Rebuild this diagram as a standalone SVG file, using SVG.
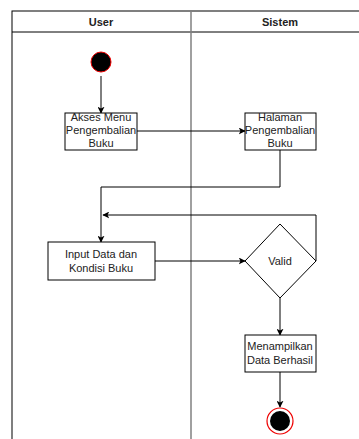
<svg xmlns="http://www.w3.org/2000/svg" width="359" height="439" viewBox="0 0 359 439">
<style>
.lane{fill:none;stroke:#000;stroke-width:1}
.div{stroke:#808080;stroke-width:1.5}
.hdr{font-family:"Liberation Sans",Arial,sans-serif;font-size:11px;font-weight:bold;fill:#222;text-anchor:middle}
.box{fill:#fff;stroke:#000;stroke-width:1}
.t{font-family:"Liberation Sans",Arial,sans-serif;font-size:11px;fill:#222;text-anchor:middle}
.c{fill:none;stroke:#000;stroke-width:1}
</style>
<defs>
<marker id="ar" viewBox="0 0 10 10" refX="9" refY="5" markerWidth="7" markerHeight="7" orient="auto" markerUnits="userSpaceOnUse">
<path d="M0,0 L10,5 L0,10 L2.5,5 Z" fill="#000"/>
</marker>
</defs>
<rect width="359" height="439" fill="#fff"/>
<g id="lanes">
<rect class="lane" x="12" y="11" width="360" height="440"/>
<line class="lane" x1="12" y1="32" x2="372" y2="32"/>
<line class="div" x1="191" y1="11" x2="191" y2="439"/>
<text class="hdr" x="101" y="26">User</text>
<text class="hdr" x="280" y="26">Sistem</text>
</g>
<g id="connectors">
<line class="c" x1="101" y1="76" x2="101" y2="113" marker-end="url(#ar)"/>
<line class="c" x1="137" y1="131" x2="245" y2="131" marker-end="url(#ar)"/>
<polyline class="c" points="280,150 280,187 101,187 101,242" marker-end="url(#ar)"/>
<line class="c" x1="155" y1="261" x2="245" y2="261" marker-end="url(#ar)"/>
<polyline class="c" points="316,261 316,215 103,215" marker-end="url(#ar)"/>
<line class="c" x1="280" y1="298" x2="280" y2="335" marker-end="url(#ar)"/>
<line class="c" x1="280" y1="372" x2="280" y2="407" marker-end="url(#ar)"/>
</g>
<g id="start">
<circle cx="101" cy="62" r="10" fill="#000" stroke="#e00" stroke-width="1"/>
</g>
<g id="akses">
<rect class="box" x="65" y="113" width="72" height="37"/>
<text class="t" x="101" y="121">Akses Menu</text>
<text class="t" x="101" y="134">Pengembalian</text>
<text class="t" x="101" y="147">Buku</text>
</g>
<g id="halaman">
<rect class="box" x="245" y="113" width="71" height="37"/>
<text class="t" x="280" y="121">Halaman</text>
<text class="t" x="280" y="134">Pengembalian</text>
<text class="t" x="280" y="147">Buku</text>
</g>
<g id="input">
<rect class="box" x="48" y="242" width="107" height="38"/>
<text class="t" x="101" y="258">Input Data dan</text>
<text class="t" x="101" y="272">Kondisi Buku</text>
</g>
<g id="valid">
<polygon class="box" points="280,224 316,261 280,298 245,261"/>
<text class="t" x="280" y="265">Valid</text>
</g>
<g id="tampil">
<rect class="box" x="245" y="335" width="71" height="37"/>
<text class="t" x="280" y="350">Menampilkan</text>
<text class="t" x="280" y="364">Data Berhasil</text>
</g>
<g id="end">
<circle cx="280" cy="421" r="13" fill="#fff" stroke="#e00" stroke-width="1.2"/>
<circle cx="280" cy="421" r="10" fill="#000"/>
</g>
</svg>
